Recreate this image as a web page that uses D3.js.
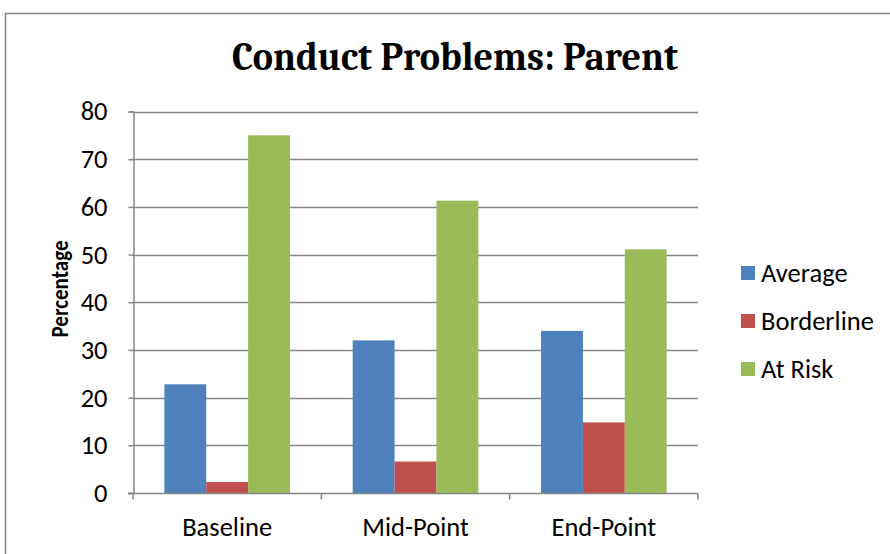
<!DOCTYPE html>
<html><head><meta charset="utf-8">
<script src="https://cdn.jsdelivr.net/npm/d3@7"></script>
<style>body{margin:0;background:#fff}svg{display:block}</style>
</head><body>
<svg id="c" width="890" height="554"></svg>
<script>
const categories = ["Baseline", "Mid-Point", "End-Point"];
const seriesNames = ["Average", "Borderline", "At Risk"];
const averageValues = [22.8, 32.0, 34.0];
const borderlineValues = [2.3, 6.6, 14.8];
const atRiskValues = [75.0, 61.3, 51.1];
const yTicks = [0, 10, 20, 30, 40, 50, 60, 70, 80];
const colors = ["#4F81BD", "#C0504D", "#9BBB59"];
const seriesValues = [averageValues, borderlineValues, atRiskValues];

(function () {
const svg = d3.select("#c");
const font = "Carlito, Calibri, 'Open Sans', sans-serif";

// outer border
svg.append("rect").attr("x", 5.5).attr("y", 13.5).attr("width", 900).attr("height", 600)
  .attr("fill", "none").attr("stroke", "#868686").attr("stroke-width", 1.5);

const pl = 133, pr = 698, pt = 111.5, pb = 493;
const x0 = d3.scaleBand().domain(categories).range([pl, pr]).paddingInner(0.333).paddingOuter(0.1665);
const x1 = d3.scaleBand().domain(seriesNames).range([0, x0.bandwidth()]);
const y = d3.scaleLinear().domain([0, 80]).range([pb, pt]);

// gridlines
svg.append("g").selectAll("line").data(yTicks.slice(1)).join("line")
  .attr("x1", pl).attr("x2", pr).attr("y1", d => Math.round(y(d)) + 0.5).attr("y2", d => Math.round(y(d)) + 0.5)
  .attr("stroke", "#868686").attr("stroke-width", 1.5);

// bars
const g = svg.append("g");
categories.forEach((c, ci) => {
  seriesNames.forEach((s, si) => {
    const v = seriesValues[si][ci];
    g.append("rect").attr("x", x0(c) + x1(s)).attr("y", y(v))
      .attr("width", x1.bandwidth()).attr("height", y(0) - y(v)).attr("fill", colors[si]);
  });
});

// y axis
const yAxis = d3.axisLeft(y).tickValues(yTicks).tickSize(5).tickPadding(21);
const ya = svg.append("g").attr("transform", `translate(${pl + 0.5},0)`).call(yAxis);
ya.select(".domain").attr("stroke", "#868686").attr("stroke-width", 1.5);
ya.selectAll(".tick line").attr("stroke", "#868686").attr("stroke-width", 1.5);
ya.selectAll(".tick text").attr("font-family", font).attr("font-size", 26.5).attr("fill", "#000");

// x axis
const xa = svg.append("g").attr("transform", `translate(0,${pb + 0.5})`);
xa.append("line").attr("x1", pl - 5).attr("x2", pr).attr("y1", 0).attr("y2", 0)
  .attr("stroke", "#868686").attr("stroke-width", 1.5);
const bounds = [pl, pl + (pr - pl) / 3, pl + 2 * (pr - pl) / 3, pr];
xa.selectAll("line.t").data(bounds).join("line").attr("class", "t")
  .attr("x1", d => d).attr("x2", d => d).attr("y1", 0).attr("y2", 6)
  .attr("stroke", "#868686").attr("stroke-width", 1.5);
xa.selectAll("text").data(categories).join("text")
  .attr("x", d => x0(d) + x0.bandwidth() / 2).attr("y", 42.5)
  .attr("text-anchor", "middle").attr("font-family", font).attr("font-size", 26.5).text(d => d);

// y label
svg.append("text").attr("transform", "translate(68,289) rotate(-90)")
  .attr("text-anchor", "middle").attr("font-family", font).attr("font-weight", "bold")
  .attr("font-size", 25).attr("textLength", 97).attr("lengthAdjust", "spacingAndGlyphs")
  .text("Percentage");

// title
svg.append("text").attr("x", 455).attr("y", 70).attr("text-anchor", "middle")
  .attr("font-family", "Cambria, 'Liberation Serif', serif").attr("font-weight", "bold")
  .attr("font-size", 41).attr("textLength", 446).attr("lengthAdjust", "spacingAndGlyphs")
  .text("Conduct Problems: Parent");

// legend
const lg = svg.append("g");
seriesNames.forEach((s, i) => {
  const cy = 273 + i * 48;
  lg.append("rect").attr("x", 741).attr("y", cy - 7).attr("width", 14).attr("height", 14).attr("fill", colors[i]);
  lg.append("text").attr("x", 761).attr("y", cy + 9).attr("font-family", font).attr("font-size", 26.5).text(s);
});
})();
</script>
</body></html>
